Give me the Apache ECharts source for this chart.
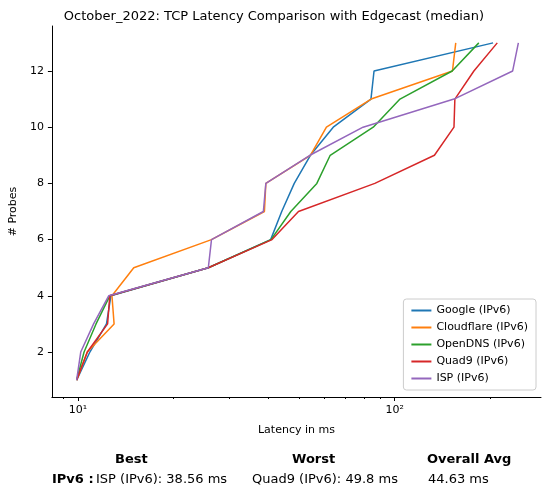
<!DOCTYPE html>
<html><head><meta charset="utf-8">
<script src="https://cdn.jsdelivr.net/npm/echarts@6/dist/echarts.min.js"></script>
<style>body{margin:0;background:#fff}#c{width:548px;height:494px}</style>
</head><body><div id="c"></div>
<script>
var probes = [1,2,3,4,5,6,7,8,9,10,11,12,13];
var names = ['Google (IPv6)','Cloudflare (IPv6)','OpenDNS (IPv6)','Quad9 (IPv6)','ISP (IPv6)'];
var colors = ['#1f77b4','#ff7f0e','#2ca02c','#d62728','#9467bd'];
var google = [9.9,10.9,12.3,12.7,25.8,40.6,44,48.2,54.2,64,84.2,86.1,204.7];
var cloudflare = [9.9,10.7,13.0,12.8,15.0,26.4,38.8,39.2,54.2,60.9,84.3,152.3,156];
var opendns = [9.9,10.45,11.4,12.6,25.8,40.7,47,56.8,62.6,85.6,104,152,184.5];
var quad9 = [9.9,10.7,12.4,12.6,25.8,41,49.7,86.6,133.6,154,155,178,211];
var isp = [9.9,10.2,11.2,12.5,25.8,26.4,38.5,39.2,54,79.5,154,236,246];
var yTicks = [2,4,6,8,10,12];
var xMajor = [10,100];
var xMinor = [9,20,30,40,50,60,70,80,90,200];

var all = [google,cloudflare,opendns,quad9,isp];
var font = 'DejaVu Sans';
var chart = echarts.init(document.getElementById('c'));
chart.setOption({
  animation:false,
  textStyle:{fontFamily:font},
  title:{text:'October_2022: TCP Latency Comparison with Edgecast (median)',left:'center',top:5,
    textStyle:{fontSize:13,fontWeight:'normal',color:'#000',fontFamily:font}},
  grid:{left:44,right:7,top:26,bottom:97},
  legend:{orient:'vertical',right:12,bottom:104,itemWidth:20,itemHeight:2,itemGap:6,
    icon:'rect',borderColor:'#ccc',borderWidth:1,borderRadius:3,padding:[6,8],backgroundColor:'#fff',
    textStyle:{fontSize:11,color:'#000'},data:names},
  xAxis:[{type:'log',logBase:10,min:8.27,max:290,name:'Latency in ms',nameLocation:'middle',nameGap:28,
    nameTextStyle:{fontSize:11,color:'#000'},
    axisLine:{lineStyle:{color:'#000'}},splitLine:{show:false},
    axisTick:{customValues:xMajor,length:4,lineStyle:{color:'#000'}},
    axisLabel:{customValues:xMajor,color:'#000',fontSize:11,
      formatter:function(v){return v==10?'10\u00b9':'10\u00b2';}}},
   {type:'log',logBase:10,min:8.27,max:290,position:'bottom',axisLine:{show:false},splitLine:{show:false},
    axisTick:{customValues:xMinor,length:2,lineStyle:{color:'#000'}},axisLabel:{show:false}}],
  yAxis:{type:'value',min:0.4,max:13.6,name:'# Probes',nameLocation:'middle',nameGap:30,
    nameTextStyle:{fontSize:11,color:'#000'},
    axisLine:{show:true,lineStyle:{color:'#000'}},splitLine:{show:false},
    axisTick:{show:true,customValues:yTicks,length:4,lineStyle:{color:'#000'}},
    axisLabel:{customValues:yTicks,color:'#000',fontSize:11}},
  series:names.map(function(n,i){
    return {name:n,type:'line',data:all[i].map(function(x,j){return [x,probes[j]];}),
      showSymbol:false,symbol:'none',color:colors[i],lineStyle:{width:1.5,color:colors[i]}};
  }),
  graphic:[
    {type:'text',left:115,top:453,style:{text:'Best',font:'bold 13px DejaVu Sans',fill:'#000'}},
    {type:'text',left:292,top:453,style:{text:'Worst',font:'bold 13px DejaVu Sans',fill:'#000'}},
    {type:'text',left:427,top:453,style:{text:'Overall Avg',font:'bold 13px DejaVu Sans',fill:'#000'}},
    {type:'text',left:52,top:473,style:{text:'IPv6 :',font:'bold 13px DejaVu Sans',fill:'#000'}},
    {type:'text',left:96,top:473,style:{text:'ISP (IPv6): 38.56 ms',font:'13px DejaVu Sans',fill:'#000'}},
    {type:'text',left:252,top:473,style:{text:'Quad9 (IPv6): 49.8 ms',font:'13px DejaVu Sans',fill:'#000'}},
    {type:'text',left:428,top:473,style:{text:'44.63 ms',font:'13px DejaVu Sans',fill:'#000'}}
  ]
});
</script></body></html>
